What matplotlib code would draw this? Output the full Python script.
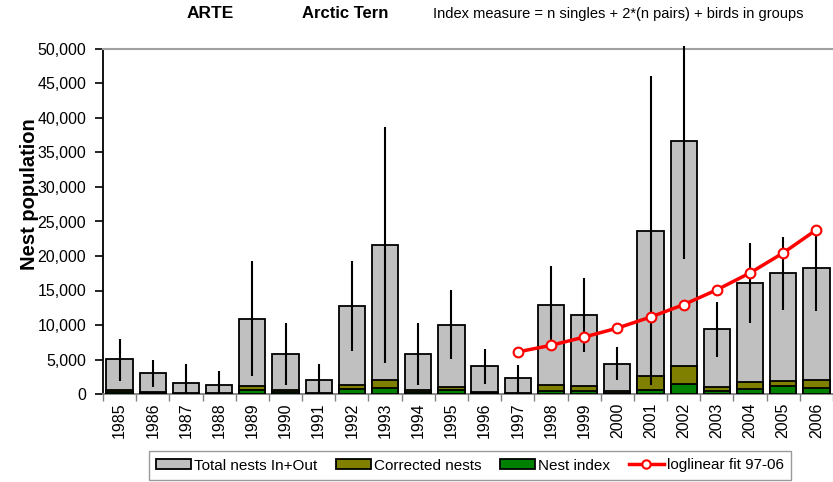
import matplotlib
matplotlib.use('Agg')
import matplotlib.pyplot as plt
from matplotlib.patches import Patch
from matplotlib.lines import Line2D
from matplotlib.ticker import FuncFormatter

plt.rcParams['font.family'] = ['Liberation Sans', 'DejaVu Sans']

years = [str(y) for y in range(1985, 2007)]
total_nests = [5050, 3050, 1650, 1250, 10900, 5750, 2050, 12700, 21600, 5750, 10050,
               4000, 2300, 12950, 11450, 4400, 23600, 36700, 9400, 16050, 17550, 18250]
corrected_nests = [550, 250, 150, 100, 1100, 600, 150, 1250, 2050, 650, 1000,
                   350, 150, 1250, 1150, 450, 2650, 4100, 1000, 1800, 1950, 2100]
nest_index = [250, 100, 50, 50, 600, 300, 50, 700, 900, 350, 550,
              150, 50, 500, 500, 200, 600, 1450, 450, 700, 1100, 800]
err_high = [7950, 5000, 4300, 3400, 19250, 10250, 4300, 19300, 38700, 10250, 15050,
            6550, 4200, 18550, 16800, 6850, 46050, 50400, 13300, 21950, 22800, 23800]
err_low = [1900, 1050, 0, 0, 2600, 1300, 0, 6300, 4450, 1250, 5050,
           1450, 0, 7150, 6050, 2000, 1250, 19500, 5350, 10250, 12200, 12050]
fit_years = [str(y) for y in range(1997, 2007)]
fit_values = [6100, 7050, 8250, 9550, 11150, 12950, 15100, 17550, 20450, 23800]

fig = plt.figure(figsize=(8.33, 4.82), dpi=100)
ax = fig.add_axes([103 / 833, 88 / 482, 730 / 833, 345 / 482])

x = list(range(len(years)))
w = 0.79
ax.bar(x, total_nests, w, color='#C0C0C0', edgecolor='black', linewidth=1.3, zorder=2)
ax.bar(x, corrected_nests, w, color='#808000', edgecolor='black', linewidth=1.3, zorder=3)
ax.bar(x, nest_index, w, color='#008000', edgecolor='black', linewidth=1.3, zorder=4)
ax.vlines(x, err_low, err_high, color='black', linewidth=1.5, zorder=5, clip_on=False)

fit_x = [years.index(y) for y in fit_years]
ax.plot(fit_x, fit_values, color='red', linewidth=2.5, marker='o', markersize=7,
        markerfacecolor='white', markeredgecolor='red', markeredgewidth=1.5, zorder=6)

ax.set_xlim(-0.5, len(years) - 0.5)
ax.set_ylim(0, 50000)
ax.set_yticks(range(0, 50001, 5000))
ax.yaxis.set_major_formatter(FuncFormatter(lambda v, p: f"{int(v):,}"))
ax.set_xticks(x)
ax.set_xticklabels(years, rotation=90)
ax.set_xticks([i + 0.5 for i in range(-1, len(years))], minor=True)
ax.tick_params(axis='x', which='major', length=0, pad=6, labelsize=11.5)
ax.tick_params(axis='x', which='minor', length=5, color='#808080', width=1)
ax.tick_params(axis='y', length=6, width=1.2, labelsize=11.5, pad=6)

ax.spines['right'].set_visible(False)
ax.spines['top'].set_color('#a0a0a0')
ax.spines['top'].set_linewidth(1.5)
ax.spines['left'].set_linewidth(1.3)
ax.spines['bottom'].set_color('#808080')
ax.spines['bottom'].set_linewidth(1.3)

fig.text(30 / 833, 1 - 194 / 482, 'Nest population', rotation=90, fontsize=14.5,
         fontweight='bold', ha='center', va='center')
fig.text(210 / 833, 1 - 14 / 482, 'ARTE', fontsize=12.5, fontweight='bold', ha='center', va='center')
fig.text(345 / 833, 1 - 14 / 482, 'Arctic Tern', fontsize=12, fontweight='bold', ha='center', va='center')
fig.text(618 / 833, 1 - 14 / 482, 'Index measure = n singles + 2*(n pairs) + birds in groups',
         fontsize=10.5, ha='center', va='center')

handles = [
    Patch(facecolor='#C0C0C0', edgecolor='black', linewidth=1.3),
    Patch(facecolor='#808000', edgecolor='black', linewidth=1.3),
    Patch(facecolor='#008000', edgecolor='black', linewidth=1.3),
    Line2D([], [], color='red', linewidth=2.5, marker='o', markersize=6,
           markerfacecolor='white', markeredgecolor='red', markeredgewidth=1.5),
]
labels = ['Total nests In+Out', 'Corrected nests', 'Nest index', 'loglinear fit 97-06']
leg = fig.legend(handles, labels, loc='center', bbox_to_anchor=(470 / 833, 1 - 465.5 / 482),
                 ncol=4, fontsize=11, frameon=True, fancybox=False, edgecolor='#808080',
                 handlelength=2.3, handleheight=0.6, handletextpad=0.2, columnspacing=1.2,
                 borderpad=0.5)
leg.get_frame().set_linewidth(1.0)

fig.savefig('out.png', dpi=100)
